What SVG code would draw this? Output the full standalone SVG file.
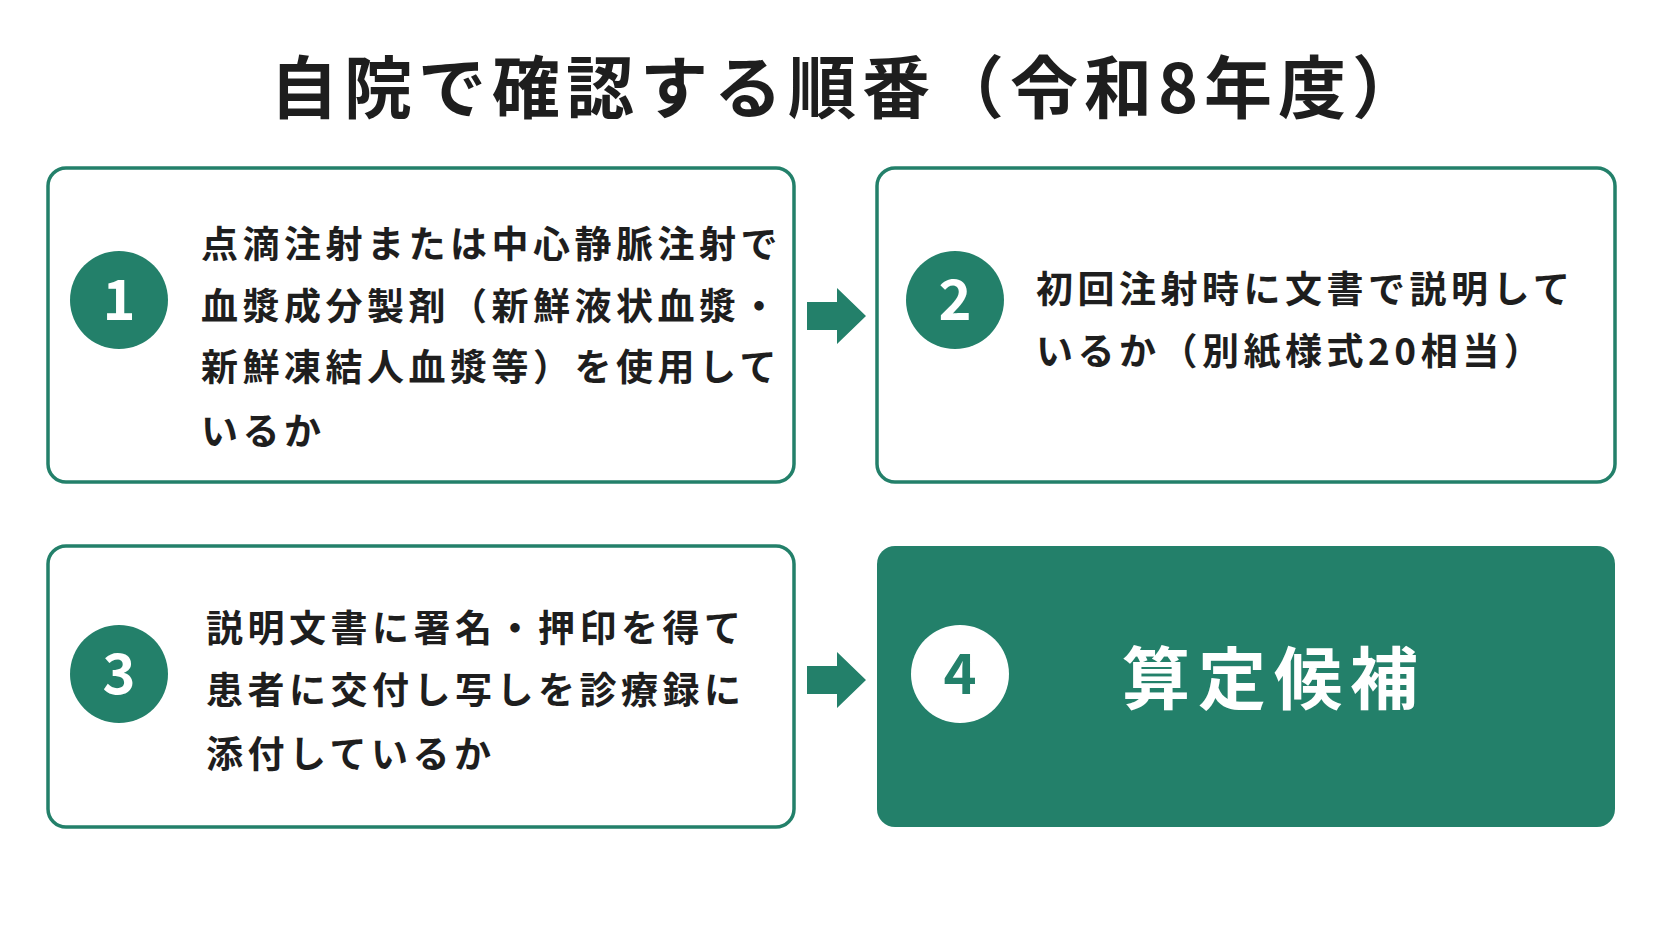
<svg xmlns="http://www.w3.org/2000/svg" width="1672" height="941" viewBox="0 0 1672 941">
<style>
text{font-family:"Noto Sans CJK JP","Noto Sans",sans-serif;font-weight:bold}
.box{fill:#fff;stroke:#23806a;stroke-width:3.5}
.t{font-size:37px;fill:#1e1e1e;letter-spacing:4.5px}
.num{font-size:56px;fill:#fff;text-anchor:middle}
.c{fill:#23806a}
</style>
<rect width="1672" height="941" fill="#ffffff"/>
<text x="848" y="113" font-size="68" text-anchor="middle" fill="#1e1e1e" letter-spacing="6">自院で確認する順番（令和8年度）</text>
<g id="node1">
<rect class="box" x="48" y="168" width="746" height="314" rx="18"/>
<circle class="c" cx="119" cy="300" r="49"/><text class="num" x="119" y="320">1</text>
<text class="t" x="201" y="258">点滴注射または中心静脈注射で</text>
<text class="t" x="201" y="320">血漿成分製剤（新鮮液状血漿・</text>
<text class="t" x="201" y="381">新鮮凍結人血漿等）を使用して</text>
<text class="t" x="201" y="445">いるか</text>
</g>
<g id="node2">
<rect class="box" x="877" y="168" width="738" height="314" rx="18"/>
<circle class="c" cx="955" cy="300" r="49"/><text class="num" x="955" y="320">2</text>
<text class="t" x="1036" y="303" letter-spacing="6">初回注射時に文書で説明して</text>
<text class="t" x="1036" y="365" letter-spacing="6">いるか（別紙様式20相当）</text>
</g>
<g id="node3">
<rect class="box" x="48" y="546" width="746" height="281" rx="18"/>
<circle class="c" cx="119" cy="674" r="49"/><text class="num" x="119" y="694">3</text>
<text class="t" x="206" y="642">説明文書に署名・押印を得て</text>
<text class="t" x="206" y="704">患者に交付し写しを診療録に</text>
<text class="t" x="206" y="768">添付しているか</text>
</g>
<g id="node4">
<rect x="877" y="546" width="738" height="281" rx="18" fill="#23806a"/>
<circle cx="960" cy="674" r="49" fill="#fff"/><text class="num" x="960" y="694" style="fill:#23806a">4</text>
<text x="1274" y="704" font-size="68" text-anchor="middle" fill="#fff" letter-spacing="8">算定候補</text>
</g>
<g id="connectors" fill="#23806a">
<polygon points="807,302 837,302 837,288 866,316 837,344 837,330 807,330"/>
<polygon points="807,666 837,666 837,652 866,680 837,708 837,694 807,694"/>
</g>
</svg>
